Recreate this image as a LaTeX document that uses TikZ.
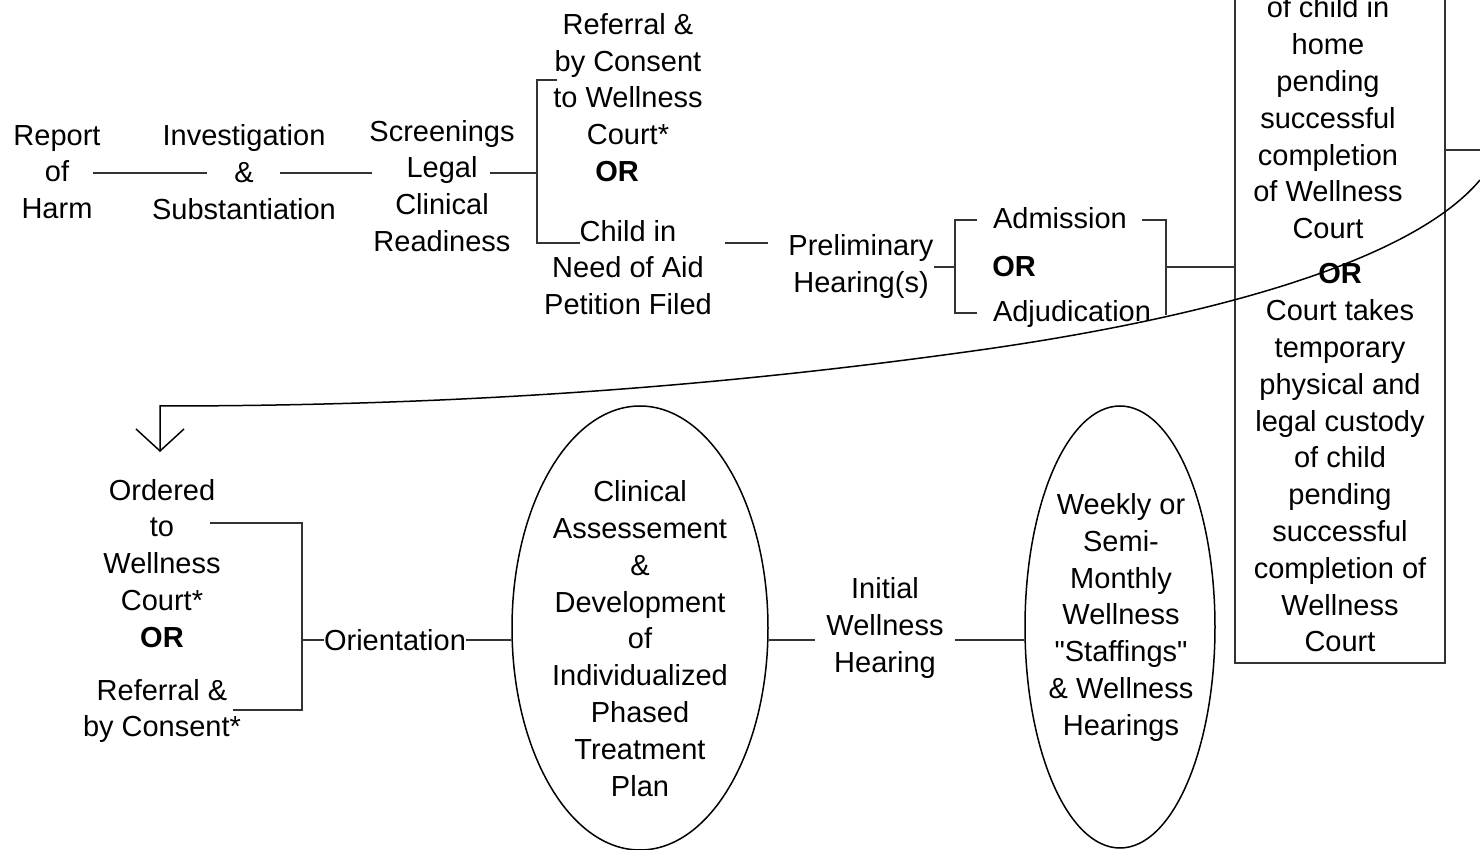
\documentclass[tikz,border=0pt]{standalone}
\usepackage{fontspec}
\setmainfont{Liberation Sans}
\usetikzlibrary{calc,shapes.geometric,arrows.meta}
\begin{document}
\begin{tikzpicture}[x=0.5pt,y=-0.5pt,
  txt/.style={align=center,inner sep=0pt,font=\fontsize{14.5}{18.4}\selectfont},
  conn/.style={line width=1pt,draw=black!80},
  thin/.style={line width=0.75pt,draw=black},
  oval/.style={ellipse,draw=black,line width=0.75pt,inner sep=0pt}]
\useasboundingbox (0,0) rectangle (1480,850);
\clip (0,0) rectangle (1480,850);
% top row
\node[txt] (report) at (57,172) {Report\\of\\Harm};
\node[txt] (inv) at (244,172) {Investigation\\\&\\Substantiation};
\node[txt] (scr) at (442,186) {Screenings\\Legal\\Clinical\\Readiness};
\node[txt] (ref) at (628,97.5) {Referral \&\\by Consent\\to Wellness\\Court*\\\textbf{OR}\hspace*{11pt}};
\node[txt] (child) at (628,267.5) {Child in\\Need of Aid\\Petition Filed};
\node[txt] (prelim) at (861,266.5) {Preliminary\\Hearing(s)};
\node[txt] (adm) at (1060,218) {Admission};
\node[txt,anchor=west] (or2) at (992,267) {\textbf{OR}};
\node[txt] (adj) at (1072,314) {Adjudication};
\node[draw=black!80,line width=1pt,minimum width=105pt,minimum height=341.5pt,inner sep=0pt] (custbox) at (1340,321.5) {};
\node[txt] (custtop) at (1328,118) {of child in\\home\\pending\\successful\\completion\\of Wellness\\Court};
\node[txt] (custbot) at (1340,458) {\textbf{OR}\\Court takes\\temporary\\physical and\\legal custody\\of child\\pending\\successful\\completion of\\Wellness\\Court};
% bottom row
\node[txt] (ord) at (162,611) {Ordered\\to\\Wellness\\Court*\\\textbf{OR}\\[8pt]Referral \&\\by Consent*};
\node[txt] (orient) at (395,640) {Orientation};
\node[oval,minimum width=128pt,minimum height=222pt] (e1) at (640,628) {};
\node[txt] (e1t) at (640,638.5) {Clinical\\Assessement\\\&\\Development\\of\\Individualized\\Phased\\Treatment\\Plan};
\node[txt] (init) at (885,628) {Initial\\Wellness\\Hearing};
\node[oval,minimum width=95pt,minimum height=221pt] (e2) at (1120,627) {};
\node[txt] (e2t) at (1121,617.5) {Weekly or\\Semi-\\Monthly\\Wellness\\\textquotedbl Staffings\textquotedbl\\\& Wellness\\Hearings};
% connectors top
\draw[conn] ($(report)+(36,1)$) -- ($(inv)+(-37,1)$);
\draw[conn] ($(inv)+(36,1)$) -- ($(scr)+(-70,-13)$);
\draw[conn] ($(scr)+(48,-13)$) -- ++(47,0);
\draw[conn] ($(ref)+(-71,-17.5)$) -- ++(-20,0) |- ($(child)+(-48,-24.5)$);
\draw[conn] ($(child)+(97,-24.5)$) -- ($(prelim)+(-93,-23.5)$);
\draw[conn] ($(prelim)+(73,0.5)$) -- ++(21,0);
\draw[conn] ($(adm)+(-83,2)$) -- ++(-22,0) |- ($(adj)+(-95,-1)$);
\draw[conn] ($(adm)+(82,2)$) -| ($(adj)+(94,1)$);
\coordinate (rj) at ($(adm)+(106,49)$);
\draw[conn] (rj) -- (rj -| custbox.west);
\coordinate (exitR) at (1480,150);
\draw[conn] (exitR -| custbox.east) -- (exitR);
% return curve
\coordinate (cstart) at (1480,180);
\coordinate (ordtop) at (160,452);
\draw[thin,-{Straight Barb[length=11pt,width=24pt]}] (cstart) .. controls (1400,275) and (1150,326) .. (980,350) .. controls (710,388) and (450,406) .. (160,406) -- (ordtop);
% connectors bottom
\draw[conn] ($(ord)+(48,-88)$) -- ++(92,0) |- ($(ord)+(71,99)$);
\draw[conn] (orient.west) -- ++(-22,0);
\draw[conn] (orient.east) -- (orient.east -| e1.west);
\coordinate (iL) at ($(init)+(-70,12)$);
\coordinate (iR) at ($(init)+(70,12)$);
\draw[conn] (iL -| e1.east) -- (iL);
\draw[conn] (iR) -- (iR -| e2.west);
\end{tikzpicture}
\end{document}
